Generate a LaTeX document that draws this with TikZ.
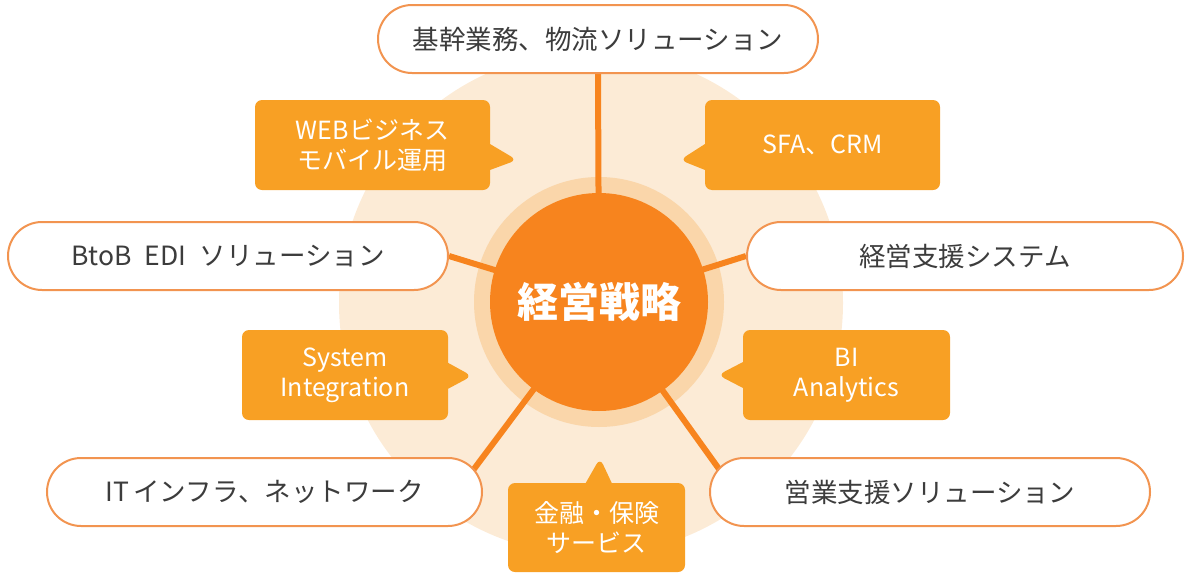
\documentclass[tikz,border=0pt]{standalone}
\usepackage{fontspec}
\setmainfont{Noto Sans CJK JP}
\usepackage{tikz}
\usetikzlibrary{shapes,shapes.callouts,calc}
\usetikzlibrary{positioning}
\pgfdeclarelayer{background}
\pgfdeclarelayer{lines}
\pgfsetlayers{background,lines,main}
\definecolor{clrOrange}{RGB}{247,132,30}
\definecolor{clrCallout}{RGB}{248,160,36}
\definecolor{clrRing}{RGB}{250,214,170}
\definecolor{clrPale}{RGB}{252,235,214}
\definecolor{clrBorders}{RGB}{242,148,80}
\definecolor{clrText}{RGB}{60,60,60}
\tikzstyle{pill_style}=[draw=clrBorders, line width=2pt, fill=white, rounded corners=34pt,
minimum height=68pt, minimum width=440pt, inner sep=0pt, text=clrText,
font=\fontsize{26.5}{30}\selectfont]
\tikzstyle{callout_style}=[rectangle callout, fill=clrCallout, rounded corners=7pt,
callout pointer width=26pt, minimum height=90pt, inner sep=0pt, text=white, align=center,
font=\fontsize{25}{30}\selectfont]
\tikzstyle{core_style}=[circle, fill=clrOrange, minimum size=218pt, inner sep=0pt,
text=white, font=\fontsize{41}{44}\selectfont\bfseries]
\tikzstyle{spoke}=[draw=clrOrange, line width=6pt]

\begin{document}
\begin{tikzpicture}[x=1pt, y=-1pt]
		\useasboundingbox (0,0) rectangle (1186,573);

		\node[core_style] (core) at (599,302) {経営戦略};

		% pills round the centre
		\node[pill_style] (kikan) at (598,39) {基幹業務、物流ソリューション};
		\node[pill_style] (btob) at (228,256) {BtoB\enspace EDI\enspace ソリューション};
		\node[pill_style, minimum width=436pt] (keiei) at (965,256) {経営支援システム};
		\node[pill_style, minimum width=435pt] (infra) at (264.5,492) {IT\,インフラ、ネットワーク};
		\node[pill_style] (eigyo) at (930,492) {営業支援ソリューション};

		% callouts point at the centre
		\coordinate (webtip) at (517,160);
		\coordinate (sfatip) at (680,160);
		\coordinate (sitip) at (472,376);
		\coordinate (bitip) at (718,375);
		\coordinate (fintip) at (600,458);

		\node[callout_style, minimum width=235pt, callout absolute pointer={(webtip)}] (web) at (372.5,145) {WEBビジネス\\モバイル運用};
		\node[callout_style, minimum width=235pt, callout absolute pointer={(sfatip)}] (sfa) at (822.5,145) {SFA、CRM};
		\node[callout_style, minimum width=206pt, callout absolute pointer={(sitip)}] (sysint) at (345,375) {System\\Integration};
		\node[callout_style, minimum width=207pt, callout absolute pointer={(bitip)}] (bi) at (846.5,375) {BI\\Analytics};
		\node[callout_style, minimum width=177pt, minimum height=89pt, callout absolute pointer={(fintip)}] (finance) at (596.5,527.5) {金融・保険\\サービス};

		\begin{pgfonlayer}{lines}
			\draw[spoke] (core.center) -- (kikan.south) ;
			\draw[spoke] (core.center) -- (btob.east) ;
			\draw[spoke] (core.center) -- (keiei.west) ;
			\draw[spoke] (core.center) -- ($(infra.east)!0.06!(infra.west)$) ;
			\draw[spoke] (core.center) -- ($(eigyo.west)!0.06!(eigyo.east)$) ;
		\end{pgfonlayer}

		\begin{pgfonlayer}{background}
			\fill[clrPale] (591,303) circle (252);
			\fill[clrRing] (core.center) circle (125);
		\end{pgfonlayer}

	\end{tikzpicture}
\end{document}
